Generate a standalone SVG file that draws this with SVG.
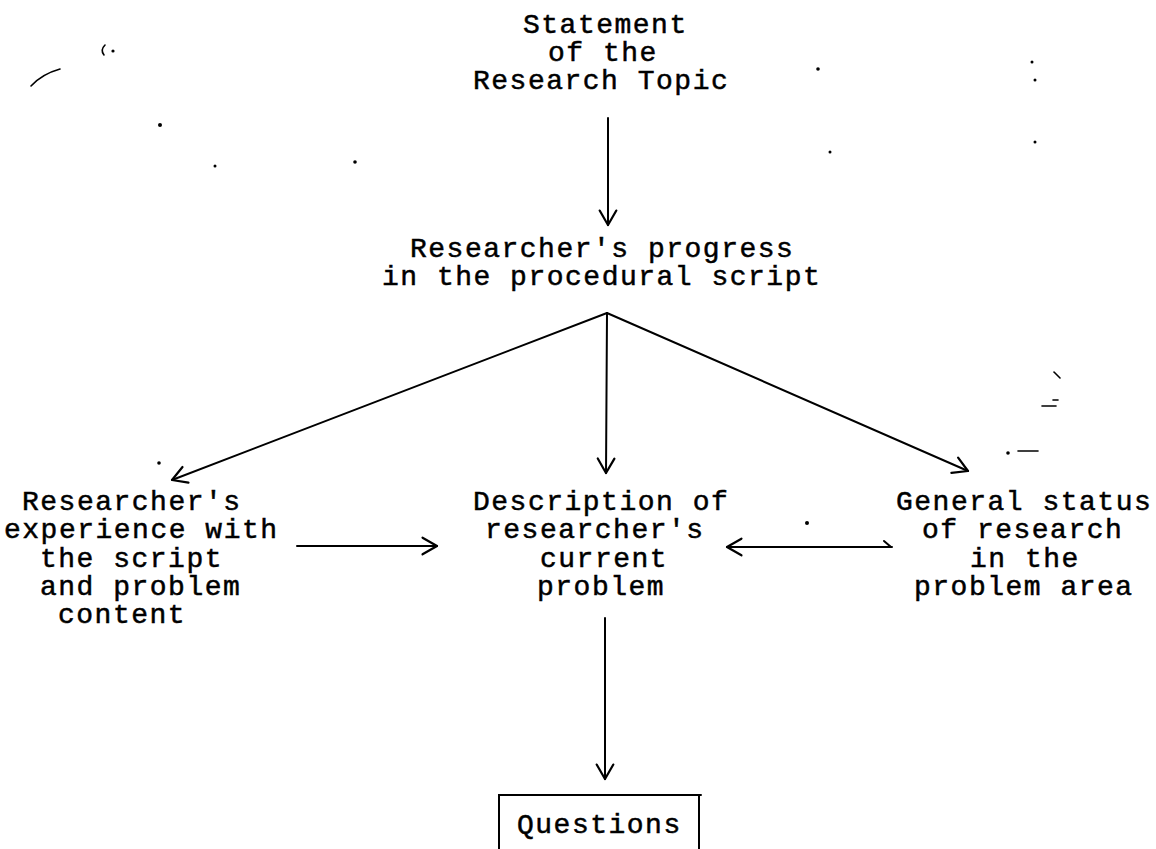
<svg xmlns="http://www.w3.org/2000/svg" width="1156" height="849" viewBox="0 0 1156 849">
  <defs>
    <style>
      .t { font-family: "Liberation Mono", "DejaVu Sans Mono", monospace; font-size: 28px; letter-spacing: 1.5px; fill: #000; stroke: #000; stroke-width: 0.5px; }
      .ln { stroke: #000; stroke-width: 2; fill: none; stroke-linecap: round; }
      .speck { fill: #000; }
      .mark { stroke: #000; stroke-width: 1.6; fill: none; stroke-linecap: round; }
    </style>
    <marker id="arrow" markerUnits="userSpaceOnUse" markerWidth="20" markerHeight="20" viewBox="-14 -9 16 18" refX="0" refY="0" orient="auto">
      <path d="M-13,-7.5 L0,0 L-13,7.5" fill="none" stroke="#000" stroke-width="2" stroke-linecap="round" stroke-linejoin="round"/>
    </marker>
  </defs>
  <rect width="1156" height="849" fill="#fff"/>

  <!-- connectors -->
  <g id="connectors">
    <line class="ln" x1="608" y1="118" x2="608" y2="225" marker-end="url(#arrow)"/>
    <line class="ln" x1="607" y1="313" x2="172" y2="480" marker-end="url(#arrow)"/>
    <line class="ln" x1="607" y1="313" x2="606" y2="473" marker-end="url(#arrow)"/>
    <line class="ln" x1="607" y1="313" x2="968" y2="471" marker-end="url(#arrow)"/>
    <line class="ln" x1="297" y1="546" x2="437" y2="546" marker-end="url(#arrow)"/>
    <line class="ln" x1="892" y1="547" x2="727" y2="547" marker-end="url(#arrow)"/>
    <path class="ln" d="M884,541 L891,547"/>
    <line class="ln" x1="605" y1="618" x2="605" y2="779" marker-end="url(#arrow)"/>
  </g>

  <!-- topic -->
  <g id="topic">
    <text class="t" x="523" y="33">Statement</text>
    <text class="t" x="548" y="61">of the</text>
    <text class="t" x="473" y="89">Research Topic</text>
  </g>

  <!-- progress in the procedural script -->
  <g id="progress">
    <text class="t" x="410" y="257">Researcher's progress</text>
    <text class="t" x="382" y="285">in the procedural script</text>
  </g>

  <!-- researcher's experience -->
  <g id="experience">
    <text class="t" x="22" y="510">Researcher's</text>
    <text class="t" x="4" y="538">experience with</text>
    <text class="t" x="40" y="567">the script</text>
    <text class="t" x="40" y="595">and problem</text>
    <text class="t" x="58" y="623">content</text>
  </g>

  <!-- current problem -->
  <g id="problem">
    <text class="t" x="473" y="510">Description of</text>
    <text class="t" x="485" y="538">researcher's</text>
    <text class="t" x="540" y="567">current</text>
    <text class="t" x="537" y="595">problem</text>
  </g>

  <!-- status of research -->
  <g id="status">
    <text class="t" x="896" y="510">General status</text>
    <text class="t" x="922" y="538">of research</text>
    <text class="t" x="970" y="567">in the</text>
    <text class="t" x="914" y="595">problem area</text>
  </g>

  <!-- questions box, running off the lower edge -->
  <g id="questions">
    <path class="ln" d="M499,860 V795 H701 M699,795 V860"/>
    <text class="t" x="517" y="833">Questions</text>
  </g>

  <!-- stray specks on the sheet -->
  <g id="specks">
    <path class="mark" d="M31,86 Q42,74 60,69"/>
    <path class="mark" d="M105,45 Q100,50 104,55"/>
    <circle class="speck" cx="113" cy="51" r="1.6"/>
    <circle class="speck" cx="160" cy="125" r="2"/>
    <circle class="speck" cx="355" cy="162" r="1.8"/>
    <circle class="speck" cx="215" cy="166" r="1.5"/>
    <circle class="speck" cx="830" cy="152" r="1.5"/>
    <circle class="speck" cx="1035" cy="142" r="1.5"/>
    <circle class="speck" cx="1032" cy="62" r="1.5"/>
    <circle class="speck" cx="1035" cy="80" r="1.5"/>
    <circle class="speck" cx="818" cy="69" r="1.8"/>
    <circle class="speck" cx="159" cy="463" r="1.8"/>
    <circle class="speck" cx="1008" cy="453" r="1.8"/>
    <circle class="speck" cx="807" cy="523" r="2"/>
    <path class="mark" d="M1018,451 H1038"/>
    <path class="mark" d="M1042,406 H1056"/>
    <path class="mark" d="M1054,372 L1060,378"/>
    <path class="mark" d="M1053,400 H1058"/>
  </g>
</svg>
